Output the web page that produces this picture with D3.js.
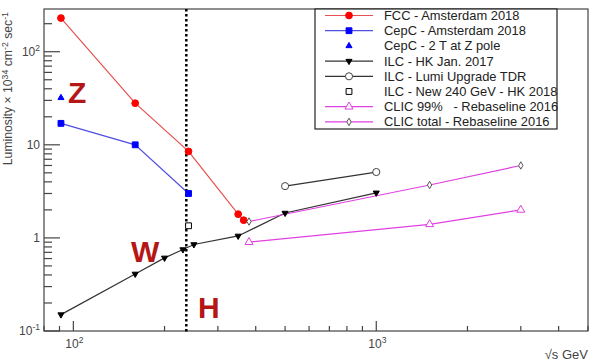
<!DOCTYPE html>
<html><head><meta charset="utf-8">
<script src="https://cdn.jsdelivr.net/npm/d3@7"></script>
<style>body{margin:0;background:#fff}svg{display:block;font-family:"Liberation Sans",Arial,sans-serif}</style>
</head><body><svg id="c" width="592" height="364"></svg>
<script>
// ---- data ----
const fccX = [91, 160, 240, 350, 365];
const fccY = [230, 28, 8.5, 1.8, 1.55];
const cepcX = [91, 160, 240];
const cepcY = [17, 10, 3.0];
const cepcZX = [91];
const cepcZY = [32];
const ilcX = [91, 160, 200, 230, 250, 350, 500, 1000];
const ilcY = [0.15, 0.41, 0.61, 0.75, 0.85, 1.05, 1.85, 3.05];
const ilcUpX = [500, 1000];
const ilcUpY = [3.6, 5.1];
const ilc240X = [240];
const ilc240Y = [1.35];
const clic99X = [380, 1500, 3000];
const clic99Y = [0.9, 1.4, 2.0];
const clicTotX = [380, 1500, 3000];
const clicTotY = [1.5, 3.7, 6.0];
const legendLabels = ["FCC - Amsterdam 2018","CepC - Amsterdam 2018","CepC - 2 T at Z pole","ILC - HK Jan. 2017","ILC - Lumi Upgrade TDR","ILC - New 240 GeV - HK 2018","CLIC 99%   - Rebaseline 2016","CLIC total - Rebaseline 2016"];
const xMajor = [100, 1000];
const xMajorLabels = ["2", "3"];
const yMajor = [0.1, 1, 10, 100];
const hLine = 236;

const svg = d3.select("#c");
const L = 44, R = 588, T = 9, B = 331;
const x = d3.scaleLog().domain([80, 5000]).range([L, R]);
const y = d3.scaleLog().domain([0.1, Math.pow(10, 2.459)]).range([B, T]);
const axisCol = "#444";

// frame
svg.append("rect").attr("x", L).attr("y", T).attr("width", R - L).attr("height", B - T)
  .attr("fill", "none").attr("stroke", axisCol).attr("stroke-width", 1.2);

// x ticks
const xTicks = [];
for (let d = 10; d <= 1000; d *= 10) for (let m = 1; m <= 9; m++) { const v = m * d; if (v >= 80 && v <= 5000) xTicks.push(v); }
svg.append("g").selectAll("line").data(xTicks).join("line")
  .attr("x1", d => x(d)).attr("x2", d => x(d)).attr("y1", B)
  .attr("y2", d => xMajor.includes(d) ? B - 10 : B - 5)
  .attr("stroke", axisCol).attr("stroke-width", 1.2);
// y ticks
const yTicks = [];
for (let d = 0.1; d <= 100.1; d *= 10) for (let m = 1; m <= 9; m++) { const v = m * d; if (v >= 0.1 && v <= Math.pow(10, 2.459)) yTicks.push(v); }
svg.append("g").selectAll("line").data(yTicks).join("line")
  .attr("y1", d => y(d)).attr("y2", d => y(d)).attr("x1", L)
  .attr("x2", (d, i) => (i % 9 === 0) ? L + 16 : L + 8)
  .attr("stroke", axisCol).attr("stroke-width", 1.2);

// x tick labels
xMajor.forEach((v, i) => {
  const t = svg.append("text").attr("x", x(v) - 8).attr("y", 348).attr("font-size", 12).attr("fill", "#444");
  t.append("tspan").text("10");
  t.append("tspan").attr("dy", -5).attr("font-size", 8.5).text(xMajorLabels[i]);
});
// y tick labels
const yLab = [["10", "-1"], ["1", ""], ["10", ""], ["10", "2"]];
yMajor.forEach((v, i) => {
  const t = svg.append("text").attr("x", 40).attr("y", y(v) + 4).attr("font-size", 12).attr("fill", "#444").attr("text-anchor", "end");
  t.append("tspan").text(yLab[i][0]);
  if (yLab[i][1]) t.append("tspan").attr("dy", -5).attr("font-size", 8.5).text(yLab[i][1]);
});

// axis titles
const yt = svg.append("text").attr("transform", "translate(12,12) rotate(-90)").attr("text-anchor", "end")
  .attr("font-size", 12.2).attr("fill", "#444");
yt.append("tspan").text("Luminosity × 10");
yt.append("tspan").attr("dy", -4.5).attr("font-size", 8.8).text("34");
yt.append("tspan").attr("dy", 4.5).text(" cm");
yt.append("tspan").attr("dy", -4.5).attr("font-size", 8.8).text("-2");
yt.append("tspan").attr("dy", 4.5).text(" sec");
yt.append("tspan").attr("dy", -4.5).attr("font-size", 8.8).text("-1");
const xt = svg.append("text").attr("x", 588).attr("y", 359).attr("text-anchor", "end").attr("font-size", 13).attr("fill", "#444");
xt.append("tspan").text("√s GeV");

// vertical dotted line
svg.append("line").attr("x1", x(hLine)).attr("x2", x(hLine)).attr("y1", T).attr("y2", B + 2)
  .attr("stroke", "#000").attr("stroke-width", 2.5).attr("stroke-dasharray", "2.5,2.5");

// labels Z W H
const big = [["Z", 68, 103], ["W", 131, 262], ["H", 198, 318]];
big.forEach(b => svg.append("text").attr("x", b[1]).attr("y", b[2]).attr("font-size", 30).attr("font-weight", "bold")
  .attr("fill", "#b51616").text(b[0]));

// series
const series = [
  {xs: fccX, ys: fccY, line: "#e8504f", sym: d3.symbolCircle, size: 36, fill: "#ff0000", stroke: "#ff0000", rot: 0},
  {xs: cepcX, ys: cepcY, line: "#5050e0", sym: d3.symbolSquare, size: 34, fill: "#0000ff", stroke: "#0000ff", rot: 0},
  {xs: cepcZX, ys: cepcZY, line: null, sym: d3.symbolTriangle, size: 16, fill: "#0000ff", stroke: "#0000ff", rot: 0},
  {xs: ilcX, ys: ilcY, line: "#333", sym: d3.symbolTriangle, size: 16, fill: "#000", stroke: "#000", rot: 180},
  {xs: ilcUpX, ys: ilcUpY, line: "#333", sym: d3.symbolCircle, size: 40, fill: "#fff", stroke: "#444", rot: 0},
  {xs: ilc240X, ys: ilc240Y, line: null, sym: d3.symbolSquare, size: 34, fill: "#fff", stroke: "#000", rot: 0},
  {xs: clic99X, ys: clic99Y, line: "#e040e0", sym: d3.symbolTriangle, size: 28, fill: "#fff", stroke: "#e040e0", rot: 0},
  {xs: clicTotX, ys: clicTotY, line: "#e040e0", sym: d3.symbolDiamond, size: 16, fill: "#fff", stroke: "#555", rot: 0}
];
const lineGen = d3.line().x(d => x(d[0])).y(d => y(d[1]));
series.forEach(s => {
  const pts = s.xs.map((v, i) => [v, s.ys[i]]);
  if (s.line) svg.append("path").attr("d", lineGen(pts)).attr("fill", "none").attr("stroke", s.line).attr("stroke-width", 1.2);
});
series.forEach(s => {
  const pts = s.xs.map((v, i) => [v, s.ys[i]]);
  svg.append("g").selectAll("path").data(pts).join("path")
    .attr("d", d3.symbol().type(s.sym).size(s.size))
    .attr("transform", d => `translate(${x(d[0])},${y(d[1])}) rotate(${s.rot})`)
    .attr("fill", s.fill).attr("stroke", s.stroke).attr("stroke-width", 1);
});

// legend
svg.append("rect").attr("x", 315).attr("y", 9).attr("width", 242).attr("height", 120)
  .attr("fill", "#fff").attr("stroke", "#222").attr("stroke-width", 1.2);
series.forEach((s, i) => {
  const ly = 15.5 + i * 15.2;
  if (s.line) svg.append("line").attr("x1", 325).attr("x2", 373).attr("y1", ly).attr("y2", ly).attr("stroke", s.line).attr("stroke-width", 1.2);
  svg.append("path").attr("d", d3.symbol().type(s.sym).size(s.size))
    .attr("transform", `translate(349,${ly}) rotate(${s.rot})`)
    .attr("fill", s.fill).attr("stroke", s.stroke).attr("stroke-width", 1);
  svg.append("text").attr("x", 384).attr("y", ly + 4.5).attr("font-size", 12.9).attr("fill", "#222")
    .attr("xml:space", "preserve").style("white-space", "pre").text(legendLabels[i]);
});
</script></body></html>
